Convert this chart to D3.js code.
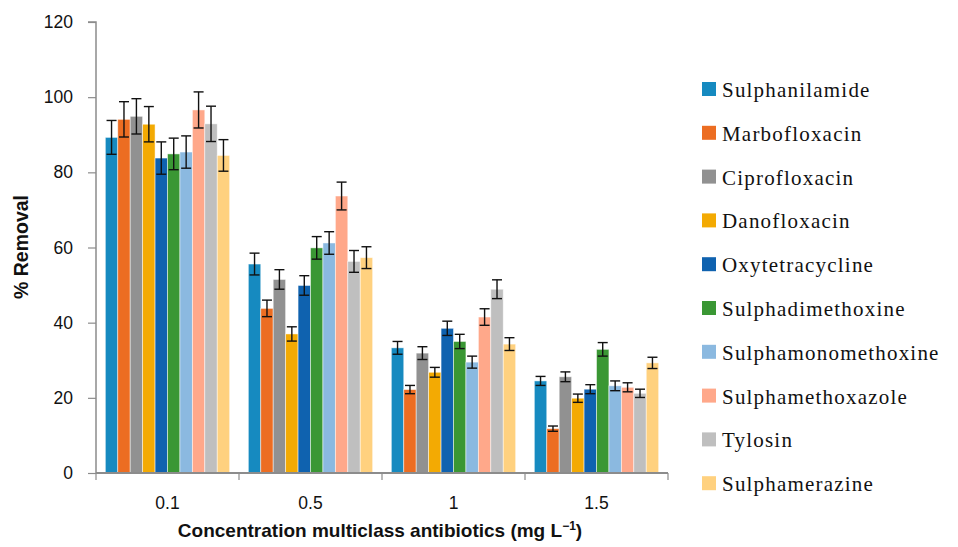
<!DOCTYPE html>
<html><head><meta charset="utf-8">
<script src="https://cdn.jsdelivr.net/npm/d3@7"></script>
<style>
body{margin:0;background:#fff}svg{display:block}
.leg text{font-family:"Liberation Serif","Times New Roman",Times,"DejaVu Serif",serif;font-size:21px;letter-spacing:1.2px;fill:#111}
.sans{font-family:"Liberation Sans",Arial,Helvetica,sans-serif}
</style>
</head><body><svg id="c" width="958" height="547"></svg>
<script>
const categories = ["0.1", "0.5", "1", "1.5"];
const seriesNames = ["Sulphanilamide","Marbofloxacin","Ciprofloxacin","Danofloxacin","Oxytetracycline","Sulphadimethoxine","Sulphamonomethoxine","Sulphamethoxazole","Tylosin","Sulphamerazine"];
const colors = ["#168AC0","#EC6D22","#919191","#F3AA03","#0F62AF","#3A9734","#8BB9E0","#FFA88A","#BFBFBF","#FFD17F"];
const sulphanilamide      = [89.3, 55.6, 33.3, 24.5];
const marbofloxacin       = [94.1, 43.8, 22.2, 11.8];
const ciprofloxacin       = [94.9, 51.5, 31.9, 25.6];
const danofloxacin        = [92.8, 37.0, 26.8, 19.9];
const oxytetracycline     = [83.8, 49.9, 38.5, 22.3];
const sulphadimethoxine   = [84.9, 59.9, 35.0, 32.9];
const sulphamonomethoxine = [85.4, 61.2, 29.5, 23.2];
const sulphamethoxazole   = [96.6, 73.7, 41.5, 22.8];
const tylosin             = [92.9, 56.3, 48.9, 21.2];
const sulphamerazine      = [84.5, 57.3, 34.3, 29.3];
const errSulphanilamide      = [4.5, 2.9, 1.7, 1.2];
const errMarbofloxacin       = [4.7, 2.2, 1.1, 0.7];
const errCiprofloxacin       = [4.7, 2.6, 1.7, 1.3];
const errDanofloxacin        = [4.7, 1.9, 1.3, 1.1];
const errOxytetracycline     = [4.3, 2.6, 1.9, 1.2];
const errSulphadimethoxine   = [4.2, 3.0, 1.9, 1.8];
const errSulphamonomethoxine = [4.3, 3.0, 1.6, 1.3];
const errSulphamethoxazole   = [4.8, 3.7, 2.2, 1.2];
const errTylosin             = [4.7, 2.9, 2.5, 1.1];
const errSulphamerazine      = [4.2, 2.9, 1.7, 1.5];
const yTicks = [0, 20, 40, 60, 80, 100, 120];

const values = [sulphanilamide, marbofloxacin, ciprofloxacin, danofloxacin, oxytetracycline, sulphadimethoxine, sulphamonomethoxine, sulphamethoxazole, tylosin, sulphamerazine];
const errors = [errSulphanilamide, errMarbofloxacin, errCiprofloxacin, errDanofloxacin, errOxytetracycline, errSulphadimethoxine, errSulphamonomethoxine, errSulphamethoxazole, errTylosin, errSulphamerazine];

const svg = d3.select("#c");
const L = 96, R = 668, T = 22, B = 473;
const x0 = d3.scaleBand().domain(categories).range([L, R]).padding(0);
const nS = seriesNames.length;
// Excel-like: gap width 150% of bar width
const barW = x0.bandwidth() / (nS + 1.5);
const x1 = d3.scaleBand().domain(d3.range(nS)).range([0.75 * barW, 0.75 * barW + nS * barW]).padding(0);
const y = d3.scaleLinear().domain([0, 120]).range([B, T]);

// bars
const data = [];
categories.forEach((c, ci) => seriesNames.forEach((s, si) => data.push({c, si, v: values[si][ci], e: errors[si][ci]})));
svg.append("g").selectAll("rect").data(data).join("rect")
  .attr("x", d => x0(d.c) + x1(d.si))
  .attr("y", d => y(d.v))
  .attr("width", x1.bandwidth())
  .attr("height", d => B - y(d.v))
  .attr("fill", d => colors[d.si])
  .attr("stroke", "#fff").attr("stroke-opacity", 0.6).attr("stroke-width", 0.8);

// error bars
const eg = svg.append("g").attr("stroke", "#111").attr("stroke-width", 1.4).attr("fill", "none");
data.forEach(d => {
  const cx = x0(d.c) + x1(d.si) + x1.bandwidth() / 2;
  const hi = y(d.v + d.e), lo = y(d.v - d.e);
  eg.append("line").attr("x1", cx).attr("x2", cx).attr("y1", hi).attr("y2", lo);
  eg.append("line").attr("x1", cx - 5).attr("x2", cx + 5).attr("y1", hi).attr("y2", hi);
  eg.append("line").attr("x1", cx - 5).attr("x2", cx + 5).attr("y1", lo).attr("y2", lo);
});

// y axis
const yAxis = d3.axisLeft(y).tickValues(yTicks).tickSize(8).tickPadding(15).tickFormat(d3.format("d"));
const gy = svg.append("g").attr("transform", `translate(${L},0)`).call(yAxis);
gy.attr("font-family", null).attr("font-size", null);
gy.select(".domain").attr("stroke", "#8c8c8c").attr("stroke-width", 1.5).attr("d", `M-8,${T}H0V${B}`);
gy.selectAll(".tick line").attr("stroke", "#8c8c8c").attr("stroke-width", 1.2);
gy.selectAll(".tick text").attr("class", "sans").style("font-size", "17.5px").attr("fill", "#111");

// x axis
const gx = svg.append("g").attr("transform", `translate(0,${B})`);
gx.append("line").attr("x1", L).attr("x2", R).attr("y1", 0).attr("y2", 0).attr("stroke", "#8c8c8c").attr("stroke-width", 1.8);
const bounds = categories.map(c => x0(c)).concat([R]);
gx.selectAll("line.tk").data(bounds).join("line").attr("class", "tk")
  .attr("x1", d => d).attr("x2", d => d).attr("y1", 0).attr("y2", 7)
  .attr("stroke", "#8c8c8c").attr("stroke-width", 1.2);
gx.selectAll("text").data(categories).join("text")
  .attr("x", d => x0(d) + x0.bandwidth() / 2).attr("y", 36)
  .attr("text-anchor", "middle").attr("class", "sans")
  .style("font-size", "17.5px").attr("fill", "#111")
  .text(d => d);

// axis titles
const xt = svg.append("text").attr("x", 380).attr("y", 537).attr("text-anchor", "middle").attr("class", "sans")
  .style("font-size", "19px").attr("font-weight", "bold").attr("fill", "#111");
xt.append("tspan").text("Concentration multiclass antibiotics (mg L");
xt.append("tspan").attr("dy", -7).style("font-size", "12px").text("−1");
xt.append("tspan").attr("dy", 7).text(")");

svg.append("text").attr("transform", "translate(28,247) rotate(-90)").attr("text-anchor", "middle").attr("class", "sans")
  .style("font-size", "19.5px").attr("font-weight", "bold").attr("fill", "#111")
  .text("% Removal");

// legend
const lg = svg.append("g").attr("class", "leg").selectAll("g").data(seriesNames).join("g")
  .attr("transform", (d, i) => `translate(702,${89 + i * 43.8})`);
lg.append("rect").attr("x", 0).attr("y", -7).attr("width", 14).attr("height", 14).attr("fill", (d, i) => colors[i]);
lg.append("text").attr("x", 20).attr("y", 8).text(d => d);
</script></body></html>
